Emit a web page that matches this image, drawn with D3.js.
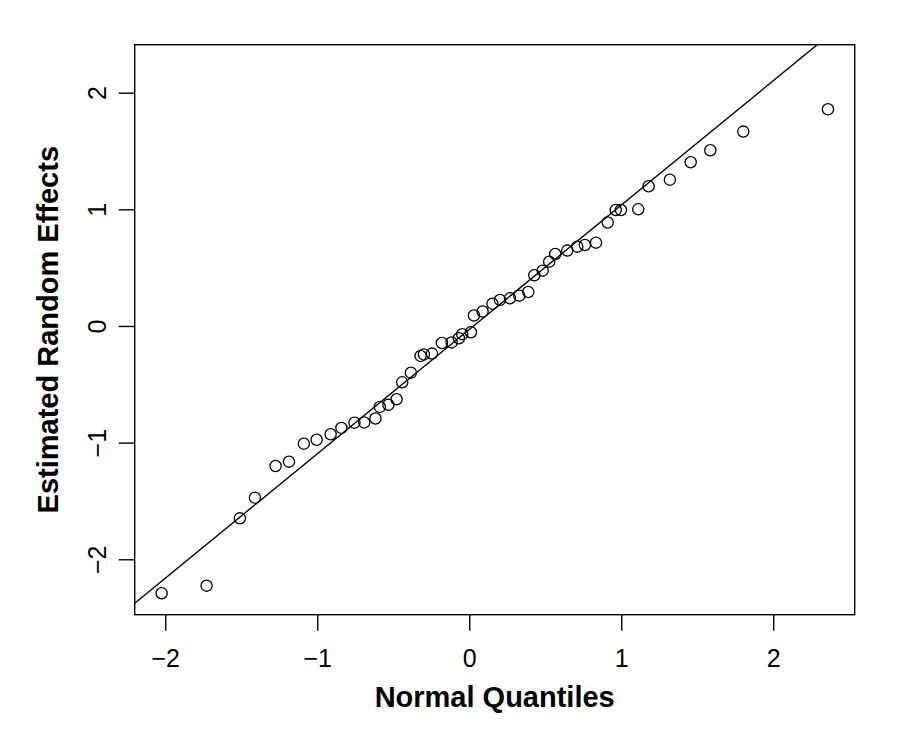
<!DOCTYPE html>
<html>
<head>
<meta charset="utf-8">
<script src="https://cdn.jsdelivr.net/npm/d3@7"></script>
<style>
  body { margin: 0; background: #fff; }
  svg { font-family: "Liberation Sans", Arial, Helvetica, sans-serif; }
</style>
</head>
<body>
<svg width="900" height="750" viewBox="0 0 900 750"></svg>
<script>
// theoretical normal quantiles (x) and estimated random effects (y)
const quantiles = [
  -2.024, -1.728, -1.509, -1.410, -1.274, -1.186, -1.088, -1.004, -0.912, -0.841,
  -0.755, -0.691, -0.617, -0.588, -0.532, -0.478, -0.441, -0.384, -0.320, -0.298,
  -0.245, -0.180, -0.116, -0.068, -0.046, 0.011, 0.031, 0.088, 0.153, 0.202,
  0.268, 0.329, 0.388, 0.428, 0.483, 0.526, 0.566, 0.645, 0.711, 0.761,
  0.834, 0.911, 0.964, 0.998, 1.112, 1.180, 1.320, 1.457, 1.586, 1.803,
  2.360
];
const effects = [
  -2.291, -2.226, -1.649, -1.472, -1.200, -1.163, -1.009, -0.975, -0.928, -0.874,
  -0.829, -0.827, -0.793, -0.694, -0.675, -0.628, -0.483, -0.400, -0.257, -0.244,
  -0.237, -0.146, -0.141, -0.105, -0.070, -0.054, 0.090, 0.124, 0.191, 0.223,
  0.237, 0.260, 0.291, 0.435, 0.474, 0.551, 0.617, 0.646, 0.680, 0.694,
  0.714, 0.887, 0.994, 0.994, 1.000, 1.198, 1.254, 1.403, 1.506, 1.666,
  1.858
];
const xTicks = [-2, -1, 0, 1, 2];
const yTicks = [-2, -1, 0, 1, 2];
// reference line (qqline)
const lineIntercept = -0.030;
const lineSlope = 1.066;

const svg = d3.select("svg");
const [width, height] = svg.attr("viewBox").split(" ").slice(2).map(Number);
const margin = { top: 44.7, right: 45.3, bottom: 135.3, left: 134.7 };

const x = d3.scaleLinear().domain([-2.201, 2.536]).range([margin.left, width - margin.right]);
const y = d3.scaleLinear().domain([-2.475, 2.411]).range([height - margin.bottom, margin.top]);
const fmt = d3.format("d");

const points = quantiles.map((q, i) => ({ q, e: effects[i] }));

svg.append("defs").append("clipPath").attr("id", "plot-clip")
  .append("rect")
  .attr("x", margin.left).attr("y", margin.top)
  .attr("width", width - margin.left - margin.right)
  .attr("height", height - margin.top - margin.bottom);

// qq line
const [x0, x1] = x.domain();
svg.append("line")
  .attr("clip-path", "url(#plot-clip)")
  .attr("x1", x(x0)).attr("y1", y(lineIntercept + lineSlope * x0))
  .attr("x2", x(x1)).attr("y2", y(lineIntercept + lineSlope * x1))
  .attr("stroke", "#000").attr("stroke-width", 1.4);

// points
svg.append("g")
  .selectAll("circle")
  .data(points)
  .join("circle")
  .attr("cx", d => x(d.q))
  .attr("cy", d => y(d.e))
  .attr("r", 5.6)
  .attr("fill", "none")
  .attr("stroke", "#000")
  .attr("stroke-width", 1.3);

// box
svg.append("rect")
  .attr("x", margin.left).attr("y", margin.top)
  .attr("width", width - margin.left - margin.right)
  .attr("height", height - margin.top - margin.bottom)
  .attr("fill", "none").attr("stroke", "#000").attr("stroke-width", 1.4);

// x axis
const xAxis = svg.append("g")
  .attr("transform", `translate(0,${height - margin.bottom})`)
  .call(d3.axisBottom(x).tickValues(xTicks).tickFormat(fmt).tickSize(16).tickPadding(19));
xAxis.select(".domain").remove();
xAxis.selectAll(".tick line").attr("stroke-width", 1.4);
xAxis.selectAll(".tick text")
  .attr("font-size", 25).attr("font-family", "Liberation Sans, Arial, sans-serif");

// y axis, labels rotated like R default
const yAxis = svg.append("g")
  .attr("transform", `translate(${margin.left},0)`)
  .call(d3.axisLeft(y).tickValues(yTicks).tickFormat(fmt).tickSize(16));
yAxis.select(".domain").remove();
yAxis.selectAll(".tick line").attr("stroke-width", 1.4);
yAxis.selectAll(".tick text")
  .attr("font-size", 25).attr("font-family", "Liberation Sans, Arial, sans-serif")
  .attr("x", null).attr("dy", null)
  .attr("text-anchor", "middle")
  .attr("transform", "translate(-29,0) rotate(-90)");

// axis titles
svg.append("text")
  .attr("x", (margin.left + width - margin.right) / 2)
  .attr("y", 707)
  .attr("text-anchor", "middle")
  .attr("font-size", 29).attr("font-weight", "bold")
  .text("Normal Quantiles");

svg.append("text")
  .attr("transform", `translate(58,${(margin.top + height - margin.bottom) / 2}) rotate(-90)`)
  .attr("text-anchor", "middle")
  .attr("font-size", 29).attr("font-weight", "bold")
  .text("Estimated Random Effects");
</script>
</body>
</html>
